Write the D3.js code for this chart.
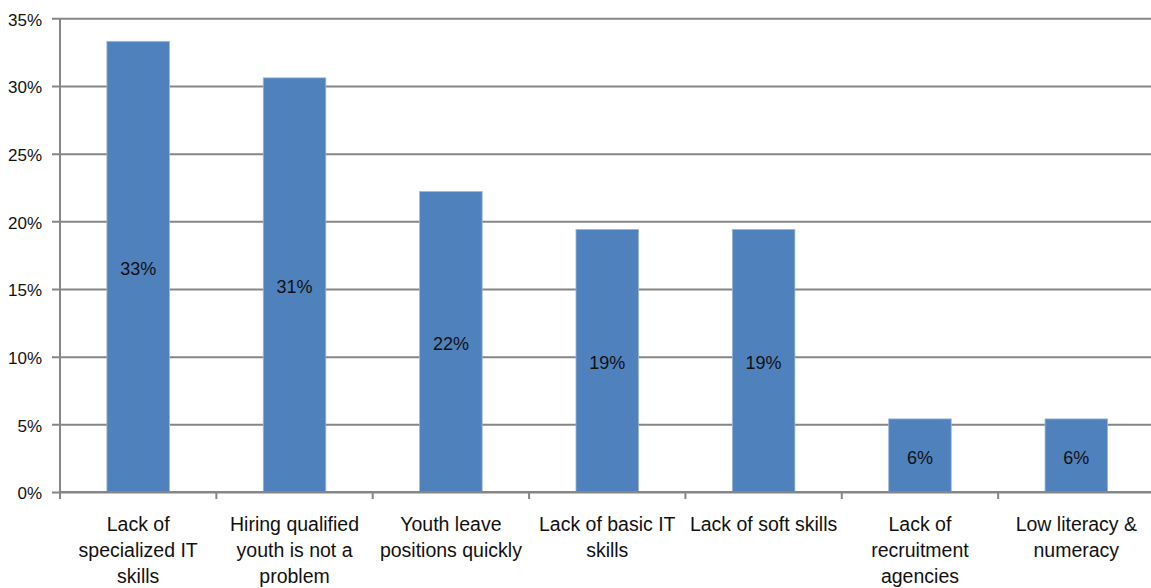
<!DOCTYPE html>
<html>
<head>
<meta charset="utf-8">
<script src="https://cdn.jsdelivr.net/npm/d3@7"></script>
<style>
  html, body { margin: 0; padding: 0; background: #ffffff; }
  svg { display: block; }
  text { font-family: "Liberation Sans Narrow", "Arial Narrow", "Liberation Sans", Arial, sans-serif; fill: #111; }
</style>
</head>
<body>
<svg id="chart" width="1151" height="588"></svg>
<script>
const categories = [
  "Lack of specialized IT skills",
  "Hiring qualified youth is not a problem",
  "Youth leave positions quickly",
  "Lack of basic IT skills",
  "Lack of soft skills",
  "Lack of recruitment agencies",
  "Low literacy & numeracy"
];
const categoryLines = [
  ["Lack of", "specialized IT", "skills"],
  ["Hiring qualified", "youth is not a", "problem"],
  ["Youth leave", "positions quickly"],
  ["Lack of basic IT", "skills"],
  ["Lack of soft skills"],
  ["Lack of", "recruitment", "agencies"],
  ["Low literacy &", "numeracy"]
];
const values = [33.3, 30.6, 22.2, 19.4, 19.4, 5.4, 5.4];
const valueLabels = ["33%", "31%", "22%", "19%", "19%", "6%", "6%"];
const yTicks = [0, 5, 10, 15, 20, 25, 30, 35];

const svg = d3.select("#chart");
const m = { left: 60, top: 18.3, right: 1154.5, bottom: 492 };

const x = d3.scaleBand().domain(categories).range([m.left, m.right]).paddingInner(0.6).paddingOuter(0.3);
const xb = d3.scaleBand().domain(categories).range([m.left, m.right]).padding(0);
const y = d3.scaleLinear().domain([0, 35]).range([m.bottom, m.top]);

const gridColor = "#868686";

// gridlines + y axis
const yAxis = d3.axisLeft(y).tickValues(yTicks).tickSize(-(m.right - m.left)).tickPadding(10)
  .tickFormat(d => d + "%");
const gy = svg.append("g").attr("transform", `translate(${m.left},0)`).call(yAxis);
gy.select(".domain").remove();
gy.selectAll(".tick line").attr("stroke", gridColor).attr("stroke-width", 2).attr("x1", -8);
gy.selectAll(".tick text").attr("font-size", 17).attr("x", -18).attr("dy", "0.4em")
  .style("font-family", '"Liberation Sans Narrow", "Arial Narrow", "Liberation Sans", sans-serif').attr("fill", "#111");

// vertical axis line
svg.append("line").attr("x1", m.left).attr("x2", m.left).attr("y1", m.top).attr("y2", m.bottom)
  .attr("stroke", gridColor).attr("stroke-width", 2);

// bars
svg.append("g").selectAll("rect").data(values).join("rect")
  .attr("x", (d, i) => x(categories[i]))
  .attr("width", x.bandwidth())
  .attr("y", d => y(d))
  .attr("height", d => y(0) - y(d))
  .attr("fill", "#4F81BD")
  .attr("stroke", "#9DB7D9").attr("stroke-width", 0.8);

// x axis (bottom line + category ticks)
svg.append("line").attr("x1", m.left).attr("x2", m.right).attr("y1", m.bottom).attr("y2", m.bottom)
  .attr("stroke", gridColor).attr("stroke-width", 2);
const bounds = categories.map(c => xb(c)).concat([m.right]);
svg.append("g").selectAll("line").data(bounds).join("line")
  .attr("x1", d => d).attr("x2", d => d).attr("y1", m.bottom).attr("y2", m.bottom + 7)
  .attr("stroke", gridColor).attr("stroke-width", 2);

// data labels
svg.append("g").selectAll("text").data(values).join("text")
  .attr("x", (d, i) => x(categories[i]) + x.bandwidth() / 2)
  .attr("y", d => (y(d) + y(0)) / 2)
  .attr("dy", "0.45em")
  .attr("text-anchor", "middle")
  .attr("font-size", 18)
  .text((d, i) => valueLabels[i]);

// category labels
const cg = svg.append("g").selectAll("text").data(categories).join("text")
  .attr("x", c => xb(c) + xb.bandwidth() / 2)
  .attr("y", 530.5)
  .attr("text-anchor", "middle")
  .attr("font-size", 19.5);
cg.each(function(c, i) {
  const t = d3.select(this);
  categoryLines[i].forEach((line, j) => {
    t.append("tspan").attr("x", xb(c) + xb.bandwidth() / 2).attr("y", 530.5 + j * 26).text(line);
  });
});
</script>
</body>
</html>
